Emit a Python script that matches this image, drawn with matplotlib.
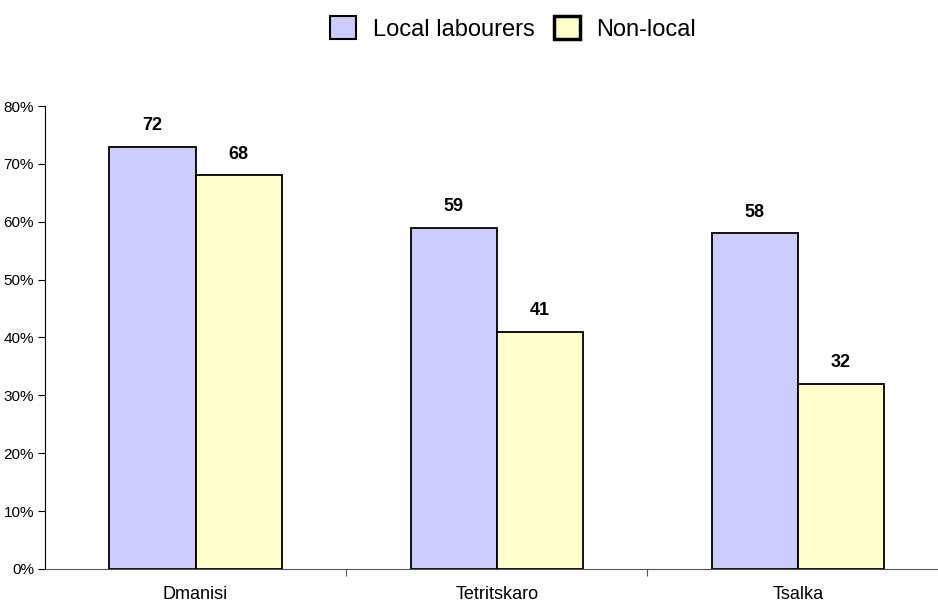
import matplotlib.pyplot as plt
import numpy as np
from matplotlib.patches import Patch

# data
districts = ['Dmanisi', 'Tetritskaro', 'Tsalka']
local = [73, 59, 58]
non_local = [68, 41, 32]
local_labels = ['72', '59', '58']
non_local_labels = ['68', '41', '32']
yticks = [0, 10, 20, 30, 40, 50, 60, 70, 80]

plt.rcParams['font.family'] = ['Liberation Sans', 'DejaVu Sans']

fig = plt.figure(figsize=(9.38, 6.04), dpi=100)
ax = fig.add_axes([0.048, 0.058, 0.952, 0.7665])

x = np.arange(len(districts))
w = 0.286
b1 = ax.bar(x - w / 2, local, w, color='#CCCCFF', edgecolor='black', linewidth=1.3)
b2 = ax.bar(x + w / 2, non_local, w, color='#FFFFCC', edgecolor='black', linewidth=1.3)

# value labels above each bar
for bars, labs in ((b1, local_labels), (b2, non_local_labels)):
    for rect, lab in zip(bars, labs):
        ax.annotate(lab, (rect.get_x() + rect.get_width() / 2, rect.get_height()),
                    xytext=(0, 9), textcoords='offset points',
                    ha='center', va='bottom', fontsize=13, fontweight='bold')

ax.set_xlim(-0.5, 2.465)
ax.set_ylim(0, 80)
ax.set_yticks(yticks)
ax.set_yticklabels([f'{v}%' for v in yticks], fontsize=11)

# tick marks between groups, labels at group centres
ax.set_xticks([0.5, 1.5])
ax.set_xticklabels([])
ax.set_xticks(x, minor=True)
ax.set_xticklabels(districts, minor=True, fontsize=13)
ax.tick_params(axis='x', which='minor', length=0, pad=12)
ax.tick_params(axis='x', which='major', length=5, direction='out', color='#555555')
ax.tick_params(axis='y', length=5, direction='out', pad=3)

for s in ('top', 'right'):
    ax.spines[s].set_visible(False)
ax.spines['bottom'].set_color('#555555')
ax.spines['left'].set_color('black')

handles = [Patch(facecolor='#CCCCFF', edgecolor='black', linewidth=1.5),
           Patch(facecolor='#FFFFCC', edgecolor='black', linewidth=2.5)]
fig.legend(handles, ['Local labourers', 'Non-local'], loc='upper center',
           bbox_to_anchor=(0.547, 1.008), ncol=2, frameon=False, fontsize=17,
           handlelength=1.1, handleheight=1.1, handletextpad=0.7, columnspacing=0.8)

fig.savefig('out.png', dpi=100)
